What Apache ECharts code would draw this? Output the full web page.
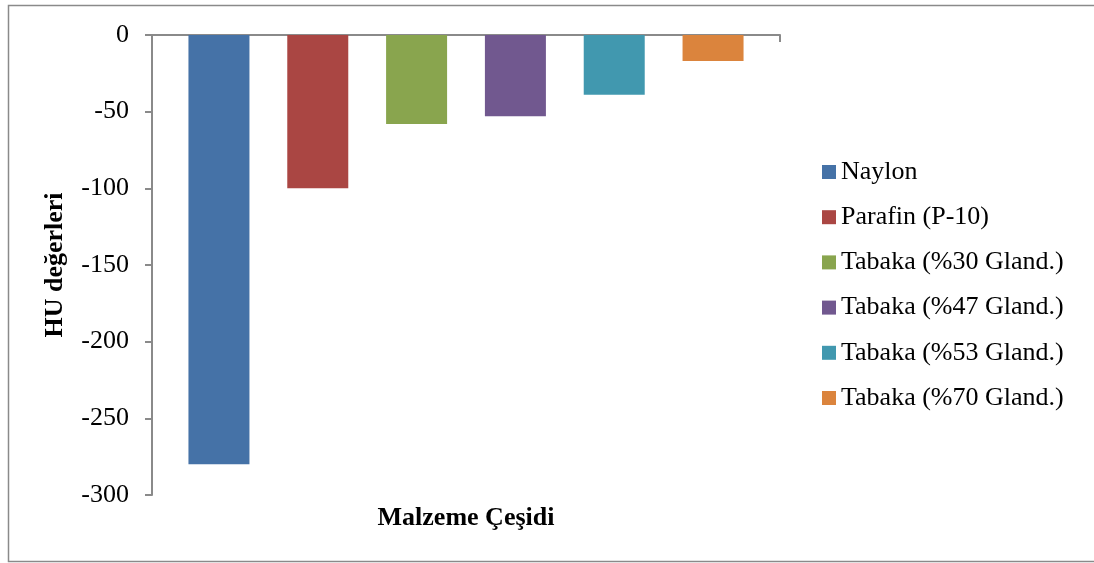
<!DOCTYPE html>
<html>
<head>
<meta charset="utf-8">
<script src="https://cdn.jsdelivr.net/npm/echarts@6/dist/echarts.min.js"></script>
<style>
  html, body { margin: 0; padding: 0; background: #ffffff; }
  #chart { width: 1094px; height: 563px; }
</style>
</head>
<body>
<div id="chart"></div>
<script>
// Material types (one bar each) and their HU values
const seriesNames = [
  'Naylon',
  'Parafin (P-10)',
  'Tabaka (%30 Gland.)',
  'Tabaka (%47 Gland.)',
  'Tabaka (%53 Gland.)',
  'Tabaka (%70 Gland.)'
];
const huValues = [-280, -100, -58, -53, -39, -17];
const seriesColors = ['#4572A7', '#AA4643', '#89A54E', '#71588F', '#4198AF', '#DB843D'];
const categories = [''];
const yTicks = { min: -300, max: 0, step: 50 };
const yTitle = 'HU değerleri';
const xTitle = 'Malzeme Çeşidi';

const axisGrey = '#8a8a8a';
const serif = '"Liberation Serif", "Times New Roman", serif';

const chart = echarts.init(document.getElementById('chart'), null, { renderer: 'canvas' });

const series = seriesNames.map((name, i) => ({
  name: name,
  type: 'bar',
  data: [huValues[i]],
  barWidth: 61,
  barGap: '62%',
  itemStyle: { color: seriesColors[i] },
  emphasis: { disabled: true }
}));

chart.setOption({
  animation: false,
  backgroundColor: '#ffffff',
  color: seriesColors,
  grid: { left: 152, right: 314, top: 35, bottom: 68, containLabel: false },
  xAxis: {
    type: 'category',
    data: categories,
    axisLine: { onZero: true, lineStyle: { color: axisGrey, width: 2 } },
    axisTick: { show: true, length: 7, lineStyle: { color: axisGrey, width: 2 } },
    axisLabel: { show: false },
    splitLine: { show: false }
  },
  yAxis: {
    type: 'value',
    min: yTicks.min,
    max: yTicks.max,
    interval: yTicks.step,
    name: yTitle,
    nameLocation: 'middle',
    nameGap: 84,
    nameRotate: 90,
    nameTextStyle: { fontFamily: serif, fontWeight: 'bold', fontSize: 26, color: '#000' },
    axisLine: { show: true, lineStyle: { color: axisGrey, width: 2 } },
    axisTick: { show: true, length: 7, lineStyle: { color: axisGrey, width: 2 } },
    axisLabel: { fontFamily: serif, fontSize: 26, color: '#000', margin: 23 },
    splitLine: { show: false }
  },
  legend: {
    orient: 'vertical',
    left: 822,
    top: 159,
    padding: 0,
    itemWidth: 14,
    itemHeight: 14,
    itemGap: 19.2,
    itemTextGap: 6,
    icon: 'rect',
    textStyle: { fontFamily: serif, fontSize: 26, color: '#000', lineHeight: 26 },
    data: seriesNames
  },
  graphic: [
    {
      type: 'rect',
      shape: { x: 8.5, y: 5.5, width: 1095, height: 556 },
      style: { fill: 'none', stroke: axisGrey, lineWidth: 1.5 },
      silent: true
    },
    {
      type: 'text',
      x: 466,
      y: 518,
      style: {
        text: xTitle,
        fontFamily: serif,
        fontWeight: 'bold',
        fontSize: 26,
        fill: '#000',
        align: 'center',
        verticalAlign: 'middle'
      }
    }
  ],
  series: series
});
</script>
</body>
</html>
